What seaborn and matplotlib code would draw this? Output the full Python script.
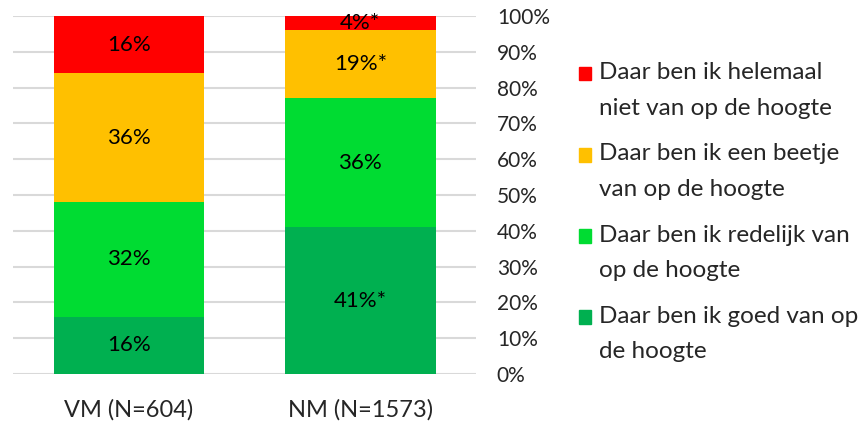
import numpy as np
import pandas as pd
import matplotlib
matplotlib.use("Agg")
from matplotlib import pyplot as plt
from matplotlib.patches import Patch, Rectangle
from matplotlib.legend_handler import HandlerPatch
import seaborn as sns

groups = ['VM (N=604)', 'NM (N=1573)']
levels = ['Daar ben ik goed van op\nde hoogte',
          'Daar ben ik redelijk van\nop de hoogte',
          'Daar ben ik een beetje\nvan op de hoogte',
          'Daar ben ik helemaal\nniet van op de hoogte']
goed = [16, 41]
redelijk = [32, 36]
beetje = [36, 19]
helemaal = [16, 4]
labels_goed = ['16%', '41%*']
labels_redelijk = ['32%', '36%']
labels_beetje = ['36%', '19%*']
labels_helemaal = ['16%', '4%*']
colors = ['#00B050', '#00DC32', '#FFC000', '#FF0000']

sns.set_theme(style='white')
plt.rcParams['font.family'] = ['Lato', 'DejaVu Sans']

df = pd.DataFrame({'group': groups, 'goed': goed, 'redelijk': redelijk,
                   'beetje': beetje, 'helemaal': helemaal})
series = ['goed', 'redelijk', 'beetje', 'helemaal']
texts = [labels_goed, labels_redelijk, labels_beetje, labels_helemaal]

fig = plt.figure(figsize=(8.66, 4.23), dpi=100)
ax = fig.add_axes([0.015, 0.1158, 0.5347, 0.8464])

bottom = np.zeros(len(groups))
for s, c, lab in zip(series, colors, texts):
    sns.barplot(data=df, x='group', y=s, color=c, ax=ax, width=0.65,
                bottom=bottom, saturation=1, linewidth=0, zorder=3)
    ax.bar_label(ax.containers[-1], labels=lab, label_type='center',
                 fontsize=16, color='black')
    bottom = bottom + df[s].values

ax.set_ylim(0, 100)
ax.set_xlim(-0.5, 1.5)
ax.set_yticks(np.arange(0, 101, 10))
ax.set_yticklabels([f'{v}%' for v in range(0, 101, 10)])
ax.yaxis.tick_right()
ax.yaxis.grid(True, color='#D9D9D9', linewidth=1.5)
ax.set_axisbelow(True)
ax.tick_params(axis='y', length=0, pad=15, labelsize=15)
ax.tick_params(axis='x', length=0, pad=18, labelsize=17)
ax.set_xlabel('')
ax.set_ylabel('')
for sp in ax.spines.values():
    sp.set_visible(False)


# square marker aligned with the first line of a two-line label
def top_square(legend, orig_handle, xdescent, ydescent, width, height, fontsize):
    return Rectangle((-xdescent, -ydescent + 12), width, height)


handles = [Patch(color=c) for c in colors][::-1]
leg = fig.legend(handles, levels[::-1], loc='upper left',
                 bbox_to_anchor=(0.643, 0.905), frameon=False, fontsize=17.5,
                 handlelength=0.5, handleheight=0.5, handletextpad=0.33,
                 labelspacing=1.02,
                 handler_map={Patch: HandlerPatch(patch_func=top_square)})
for t in leg.get_texts():
    t.set_linespacing(1.85)

fig.savefig('out.png', dpi=100)
